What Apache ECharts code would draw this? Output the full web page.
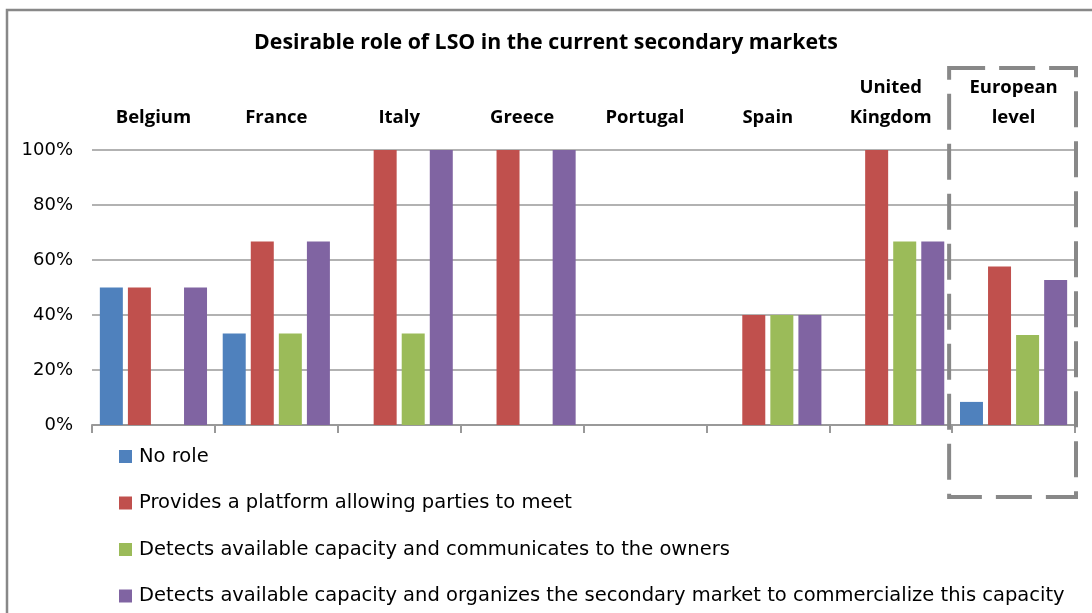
<!DOCTYPE html>
<html>
<head>
<meta charset="utf-8">
<script src="https://cdn.jsdelivr.net/npm/echarts@6/dist/echarts.min.js"></script>
<style>
  html, body { margin: 0; padding: 0; background: #fff; }
  #chart { width: 1092px; height: 613px; }
</style>
</head>
<body>
<div id="chart"></div>
<script>
// Survey: desirable role of the LSO, share of answers per country
const categories = ['Belgium', 'France', 'Italy', 'Greece', 'Portugal', 'Spain', 'United Kingdom', 'European level'];
const seriesNames = [
  'No role',
  'Provides a platform allowing parties to meet',
  'Detects available capacity and communicates to the owners',
  'Detects available capacity and organizes the secondary market to commercialize this capacity'
];
const noRole     = [50, 33.3, 0,   0,   0, 0,  0,    8.4];
const platform   = [50, 66.7, 100, 100, 0, 40, 100,  57.6];
const communicate= [0,  33.3, 33.3, 0,  0, 40, 66.7, 32.7];
const organize   = [50, 66.7, 100, 100, 0, 40, 66.7, 52.7];
const yTicks = [0, 20, 40, 60, 80, 100];

const colors = ['#4F81BD', '#C0504D', '#9BBB59', '#8064A2'];
const seriesValues = [noRole, platform, communicate, organize];
const BOLD_FONT = 'Open Sans';
const TEXT_FONT = 'DejaVu Sans';

const chart = echarts.init(document.getElementById('chart'), null, { renderer: 'canvas' });

const series = seriesValues.map((vals, i) => ({
  name: seriesNames[i],
  type: 'bar',
  xAxisIndex: 0,
  data: vals,
  barWidth: 23,
  barGap: '22%',
  itemStyle: { color: colors[i] },
  emphasis: { disabled: true }
}));

chart.setOption({
  animation: false,
  color: colors,
  title: {
    text: 'Desirable role of LSO in the current secondary markets',
    left: 'center',
    top: 27,
    textStyle: { fontFamily: BOLD_FONT, fontWeight: 'bold', fontSize: 21.3, color: '#000' }
  },
  grid: { left: 92, right: 17, top: 150, bottom: 188 },
  legend: {
    orient: 'vertical',
    left: 119,
    top: 446.5,
    padding: 0,
    itemWidth: 13,
    itemHeight: 13,
    itemGap: 26.5,
    icon: 'rect',
    data: seriesNames,
    textStyle: { fontFamily: TEXT_FONT, fontSize: 19.5, color: '#000', lineHeight: 20, padding: [0, 0, 0, 2] }
  },
  xAxis: [
    {
      type: 'category',
      position: 'bottom',
      data: categories,
      axisLine: { lineStyle: { color: '#999', width: 2 } },
      axisTick: { show: true, length: 8, lineStyle: { color: '#999', width: 2 } },
      axisLabel: { show: false }
    },
    {
      type: 'category',
      position: 'top',
      data: categories,
      axisLine: { show: false },
      axisTick: { show: false },
      axisLabel: {
        margin: 17,
        fontFamily: BOLD_FONT,
        fontWeight: 'bold',
        fontSize: 18.5,
        color: '#000',
        lineHeight: 30,
        formatter: (name) => name.replace(' ', '\n')
      }
    }
  ],
  yAxis: {
    type: 'value',
    min: yTicks[0],
    max: yTicks[yTicks.length - 1],
    interval: 20,
    axisLine: { show: false },
    axisTick: { show: false },
    splitLine: { lineStyle: { color: '#999', width: 1.5 } },
    axisLabel: {
      margin: 19,
      fontFamily: TEXT_FONT,
      fontSize: 18,
      color: '#000',
      formatter: '{value}%'
    }
  },
  series: series
});

// Outer frame and the dashed box around the European aggregate
function drawDecor() {
  const last = categories.length - 1;
  const cx = chart.convertToPixel({ xAxisIndex: 0 }, categories[last]);
  const cxPrev = chart.convertToPixel({ xAxisIndex: 0 }, categories[last - 1]);
  const band = cx - cxPrev;
  const y100 = chart.convertToPixel({ yAxisIndex: 0 }, 100);
  const y0 = chart.convertToPixel({ yAxisIndex: 0 }, 0);
  const left = cx - band / 2 - 3;
  const right = cx + band / 2 + 1;
  const top = y100 - 82;
  const bottom = y0 + 72;
  chart.setOption({
    graphic: [
      {
        type: 'rect',
        shape: { x: 7, y: 10, width: 1200, height: 800 },
        style: { fill: 'none', stroke: '#888', lineWidth: 2.5 },
        silent: true
      },
      {
        type: 'rect',
        shape: { x: left, y: top, width: right - left, height: bottom - top },
        style: { fill: 'none', stroke: '#888', lineWidth: 4, lineDash: [36, 14] },
        silent: true,
        z: 10
      }
    ]
  });
}
drawDecor();
</script>
</body>
</html>
